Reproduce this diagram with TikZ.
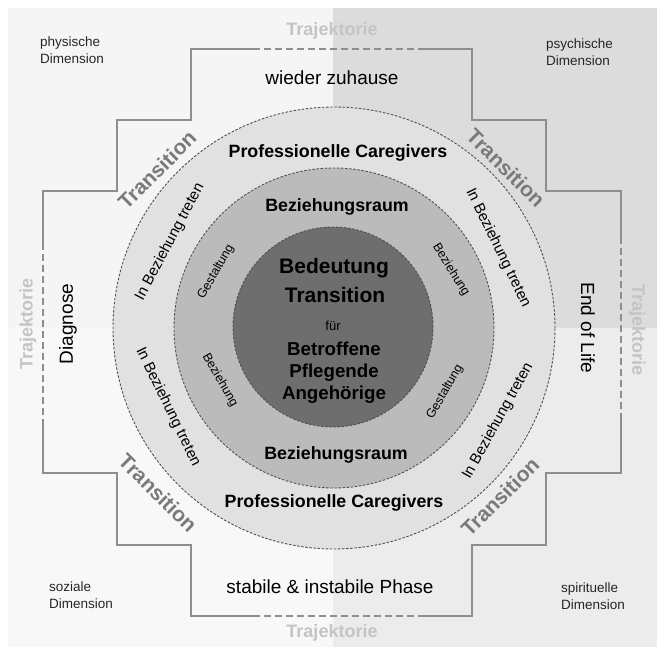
\documentclass[tikz,border=0pt]{standalone}
\usepackage{fontspec}
\setmainfont{Liberation Sans}
\definecolor{qTL}{HTML}{F5F5F5}
\definecolor{qTR}{HTML}{DCDCDC}
\definecolor{qBL}{HTML}{F8F8F8}
\definecolor{qBR}{HTML}{ECECEC}
\definecolor{ringA}{HTML}{E1E1E1}
\definecolor{ringB}{HTML}{BBBBBB}
\definecolor{coreC}{HTML}{6E6E6E}
\definecolor{stepline}{HTML}{8E8E8E}
\definecolor{trajcol}{HTML}{C4C4C4}
\definecolor{transcol}{HTML}{7A7A7A}
\definecolor{circline}{HTML}{505050}
\begin{document}
\begin{tikzpicture}[x=1pt,y=-1pt,
  disc/.style={circle,inner sep=0pt,draw=circline,line width=0.9pt,dash pattern=on 2.5pt off 1.6pt},
  steps/.style={draw=stepline,line width=1.1pt},
  stepsdash/.style={draw=stepline,line width=1.1pt,dash pattern=on 7pt off 4pt},
  dimlab/.style={align=left,anchor=west,inner sep=0pt,font=\fontsize{13.5}{17}\selectfont,text=black!85},
  trajlab/.style={inner sep=0pt,font=\fontsize{18}{21}\selectfont\bfseries,text=trajcol},
  phase/.style={inner sep=0pt,font=\fontsize{19}{22}\selectfont},
  transl/.style={inner sep=0pt,font=\fontsize{21}{24}\selectfont\bfseries,text=transcol},
  treten/.style={inner sep=0pt,font=\fontsize{15}{18}\selectfont},
  small/.style={inner sep=0pt,font=\fontsize{12.5}{15}\selectfont},
  bigb/.style={inner sep=0pt,font=\fontsize{17.8}{21}\selectfont\bfseries},
  coreb/.style={inner sep=0pt,font=\fontsize{21}{24}\selectfont\bfseries},
  corec/.style={inner sep=0pt,font=\fontsize{18.7}{22}\selectfont\bfseries}
]
\useasboundingbox (0,0) rectangle (657,647);
\fill[white] (0,0) rectangle (657,647);
\fill[qTL] (8,8) rectangle (333,328);
\fill[qTR] (333,8) rectangle (657,328);
\fill[qBL] (8,328) rectangle (333,647);
\fill[qBR] (333,328) rectangle (657,647);

% stepped trajectory outline
\draw[steps] (253,49)--(191,49)--(191,120)--(117,120)--(117,191)--(43,191)--(43,243);
\draw[stepsdash] (43,243)--(43,420);
\draw[steps] (43,420)--(43,473)--(117,473)--(117,545)--(191,545)--(191,616)--(253,616);
\draw[stepsdash] (253,616)--(418,616);
\draw[steps] (418,616)--(472,616)--(472,545)--(546,545)--(546,473)--(621,473)--(621,420);
\draw[stepsdash] (621,420)--(621,243);
\draw[steps] (621,243)--(621,191)--(546,191)--(546,120)--(472,120)--(472,49)--(425,49);
\draw[stepsdash] (425,49)--(253,49);

% circles
\node[disc,fill=ringA,minimum size=442pt] (outer) at (334,328) {};
\node[disc,fill=ringB,minimum size=320pt] (middle) at (334,328) {};
\node[disc,fill=coreC,minimum size=200pt] (core) at (333,327) {};

% corner labels
\node[dimlab] (phys) at (40,50) {physische\\Dimension};
\node[dimlab] (psych) at (546,52) {psychische\\Dimension};
\node[dimlab] (soz) at (49,595) {soziale\\Dimension};
\node[dimlab] (spir) at (561,596) {spirituelle\\Dimension};

% Trajektorie
\node[trajlab] (tjt) at (332,31) {Trajektorie};
\node[trajlab] (tjb) at (332,633) {Trajektorie};
\node[trajlab,rotate=90] (tjl) at (28,324) {Trajektorie};
\node[trajlab,rotate=-90] (tjr) at (637,330) {Trajektorie};

% phases
\node[phase] (top) at (332,78) {wieder zuhause};
\node[phase] (bot) at (330,587) {stabile \& instabile Phase};
\node[phase,rotate=90] (diag) at (68,324) {Diagnose};
\node[phase,rotate=-90] (eol) at (588,328) {End of Life};

% Transition
\node[transl,rotate=45] (trTL) at (157,170) {Transition};
\node[transl,rotate=-45] (trTR) at (506,168) {Transition};
\node[transl,rotate=-45] (trBL) at (158,493) {Transition};
\node[transl,rotate=45] (trBR) at (500,497) {Transition};

% outer ring
\node[bigb] (pcT) at (338,153) {Professionelle Caregivers};
\node[bigb] (pcB) at (334,503) {Professionelle Caregivers};
\node[treten,rotate=62] (ibTL) at (170,242) {In Beziehung treten};
\node[treten,rotate=-64] (ibTR) at (498,248) {In Beziehung treten};
\node[treten,rotate=-64] (ibBL) at (168,407) {In Beziehung treten};
\node[treten,rotate=61] (ibBR) at (498,421) {In Beziehung treten};

% middle ring
\node[bigb] (brT) at (337,207) {Beziehungsraum};
\node[bigb] (brB) at (336,455) {Beziehungsraum};
\node[small,rotate=60] (gTL) at (216,272) {Gestaltung};
\node[small,rotate=-58] (bTR) at (451,270) {Beziehung};
\node[small,rotate=-60] (bBL) at (220,380) {Beziehung};
\node[small,rotate=60] (gBR) at (445,392) {Gestaltung};

% core
\node[coreb] (bed) at (334,268) {Bedeutung};
\node[coreb] (tra) at (335,295) {Transition};
\node[inner sep=0pt,font=\fontsize{13}{15}\selectfont] (fur) at (333,326) {für};
\node[corec] (bet) at (334,349) {Betroffene};
\node[corec] (pfl) at (334,373) {Pflegende};
\node[corec] (ang) at (334,395) {Angehörige};
\end{tikzpicture}
\end{document}
